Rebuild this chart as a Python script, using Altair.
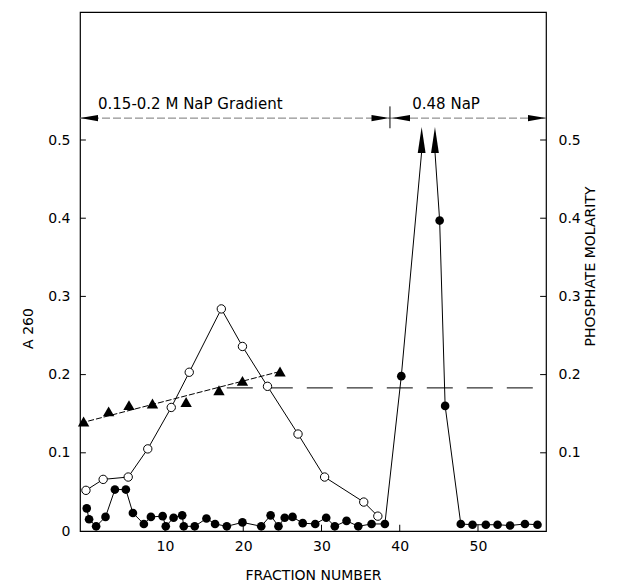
import altair as alt
import pandas as pd

# ---------------- data ----------------
# filled circles (A 260 profile)
filled_x = [0, 0.3, 1.2, 2.4, 3.6, 5.0, 5.9, 7.3, 8.2, 9.7, 10.1, 11.1, 12.2, 12.4,
            13.8, 15.3, 16.4, 17.9, 19.9, 22.3, 23.5, 24.5, 25.3, 26.3, 27.6, 29.2,
            30.6, 31.7, 33.2, 34.7, 36.4, 38.1, 40.2, 45.1, 45.8, 47.8, 49.3, 51.0,
            52.5, 54.1, 56.0, 57.6]
filled_y = [0.029, 0.015, 0.006, 0.018, 0.053, 0.053, 0.023, 0.009, 0.018, 0.019,
            0.006, 0.017, 0.020, 0.006, 0.006, 0.016, 0.009, 0.006, 0.011, 0.006,
            0.020, 0.006, 0.017, 0.018, 0.010, 0.009, 0.017, 0.006, 0.013, 0.006,
            0.009, 0.009, 0.198, 0.397, 0.160, 0.009, 0.008, 0.008, 0.008, 0.007,
            0.009, 0.008]

# open circles
open_x = [-0.1, 2.1, 5.3, 7.8, 10.8, 13.1, 17.2, 19.9, 23.1, 27.0, 30.4, 35.4, 37.2]
open_y = [0.052, 0.066, 0.069, 0.105, 0.158, 0.203, 0.284, 0.236, 0.185, 0.124,
          0.069, 0.037, 0.019]

# triangles (phosphate molarity of gradient)
tri_x = [-0.4, 2.8, 5.4, 8.4, 12.7, 16.9, 19.9, 24.7]
tri_y = [0.140, 0.153, 0.161, 0.163, 0.165, 0.180, 0.192, 0.204]

# fitted gradient line
trend_x = [-0.8, 24.7]
trend_y = [0.138, 0.204]

# long-dashed molarity line
dash_x = [17.9, 58.69]
dash_y = [0.183, 0.183]

# off-scale peak arrows
peak_arrow_x = [42.8, 44.5]
peak_arrow_y = [0.500, 0.500]
peak_base_y = 0.485

# elution band annotation
band_y = 0.528
band_x = [-0.86, 58.69]
band_arrow_x = [0.29, 37.54, 40.16, 57.54]
band_arrow_dir = ["left", "right", "left", "right"]
divider_x = [38.75]
divider_y = [0.515, 0.543]
label_text = ["0.15-0.2 M NaP Gradient", "0.48 NaP"]
label_x = [1.44, 41.6]
label_y = [0.546, 0.546]

x_ticks = [10, 20, 30, 40, 50]
y_ticks_left = [0, 0.1, 0.2, 0.3, 0.4, 0.5]
y_ticks_right = [0.1, 0.2, 0.3, 0.4, 0.5]

X_DOMAIN = [-0.86, 58.69]
Y_DOMAIN = [0, 0.6637]
TICK_X = 0.75    # inward tick length in x units
TICK_Y = 0.008   # inward tick length in y units

FONT = "DejaVu Sans"

# ---------------- frames ----------------
filled_df = pd.DataFrame({"x": filled_x, "y": filled_y})
seg = [1 if v < 42 else 2 for v in filled_x]
peak_line_df = pd.DataFrame({
    "x": filled_x + peak_arrow_x,
    "y": filled_y + [peak_base_y, peak_base_y],
    "seg": seg + [1, 2],
})
open_df = pd.DataFrame({"x": open_x, "y": open_y})
tri_df = pd.DataFrame({"x": tri_x, "y": tri_y})
trend_df = pd.DataFrame({"x": trend_x, "y": trend_y})
dash_df = pd.DataFrame({"x": dash_x, "y": dash_y})
parrow_df = pd.DataFrame({"x": peak_arrow_x, "y": peak_arrow_y})
band_df = pd.DataFrame({"x": [band_x[0]], "x2": [band_x[1]], "y": [band_y]})
barrow_df = pd.DataFrame({"x": band_arrow_x, "y": [band_y] * 4, "dir": band_arrow_dir})
divider_df = pd.DataFrame({"x": divider_x, "y": [divider_y[0]], "y2": [divider_y[1]]})
label_df = pd.DataFrame({"x": label_x, "y": label_y, "t": label_text})

lt_df = pd.DataFrame({"x": [X_DOMAIN[0]] * 5, "x2": [X_DOMAIN[0] + TICK_X] * 5,
                      "y": y_ticks_right})
rt_df = pd.DataFrame({"x": [X_DOMAIN[1] - TICK_X] * 5, "x2": [X_DOMAIN[1]] * 5,
                      "y": y_ticks_right})
xt_df = pd.DataFrame({"x": x_ticks, "y": [0] * 5, "y2": [TICK_Y] * 5})

# ---------------- scales / axes ----------------
xscale = alt.Scale(domain=X_DOMAIN, nice=False, zero=False)
yscale = alt.Scale(domain=Y_DOMAIN, nice=False, zero=False)

xaxis = alt.Axis(values=x_ticks, ticks=False, tickSize=0, domain=False, grid=False,
                 labelFontSize=14, labelPadding=8, labelColor="black",
                 title="FRACTION NUMBER", titleFontSize=14, titleFontWeight="normal",
                 titleColor="black", titleY=44, titleBaseline="middle")
yaxis_left = alt.Axis(values=y_ticks_left, ticks=False, tickSize=0, domain=False,
                      grid=False, labelFontSize=14, labelPadding=10, labelColor="black",
                      labelExpr="datum.value == 0 ? '0' : format(datum.value, '.1f')",
                      title="A 260", titleFontSize=14, titleFontWeight="normal",
                      titleColor="black", titleAngle=270, titleX=-52, titleY=316,
                      titleAlign="center", titleBaseline="middle")
yaxis_right = alt.Axis(orient="right", values=y_ticks_right, ticks=False, tickSize=0,
                       domain=False, grid=False, labelFontSize=14, labelPadding=12,
                       labelColor="black", format=".1f",
                       title="PHOSPHATE MOLARITY", titleFontSize=14,
                       titleFontWeight="normal", titleColor="black", titleAngle=270,
                       titleX=44, titleY=254, titleAlign="center",
                       titleBaseline="middle")


def X():
    return alt.X("x:Q", scale=xscale, axis=xaxis)


def Y():
    return alt.Y("y:Q", scale=yscale, axis=yaxis_left)


# ---------------- layers ----------------
peak_line = alt.Chart(peak_line_df).mark_line(color="black", strokeWidth=1).encode(
    x=X(), y=Y(), detail="seg:N", order="x:Q")
filled_pts = alt.Chart(filled_df).mark_circle(color="black", opacity=1, size=75).encode(
    x=X(), y=Y())

open_line = alt.Chart(open_df).mark_line(color="black", strokeWidth=1).encode(
    x=X(), y=Y(), order="x:Q")
open_pts = alt.Chart(open_df).mark_circle(fill="white", stroke="black", strokeWidth=1,
                                          opacity=1, size=70).encode(x=X(), y=Y())

trend_line = alt.Chart(trend_df).mark_line(color="black", strokeWidth=1,
                                           strokeDash=[6, 2]).encode(x=X(), y=Y())
tri_pts = alt.Chart(tri_df).mark_point(shape="triangle-up", filled=True, color="black",
                                       opacity=1, size=130).encode(x=X(), y=Y())

dash_line = alt.Chart(dash_df).mark_line(color="black", strokeWidth=1,
                                         strokeDash=[26, 14]).encode(x=X(), y=Y())

UP = "M 0 -1 L 0.3 1 L -0.3 1 Z"
peak_arrows = alt.Chart(parrow_df).mark_point(shape=UP, filled=True, color="black",
                                              opacity=1, size=676).encode(x=X(), y=Y())

band_line = alt.Chart(band_df).mark_rule(color="#777777", strokeWidth=1,
                                         strokeDash=[8, 3]).encode(
    x=X(), x2="x2:Q", y=Y())
LEFT = "M -1 0 L 1 -0.35 L 1 0.35 Z"
RIGHT = "M 1 0 L -1 -0.35 L -1 0.35 Z"
band_arrows = alt.Chart(barrow_df).mark_point(filled=True, color="black", opacity=1,
                                              size=324).encode(
    x=X(), y=Y(),
    shape=alt.Shape("dir:N", scale=alt.Scale(domain=["left", "right"],
                                             range=[LEFT, RIGHT]), legend=None))
divider = alt.Chart(divider_df).mark_rule(color="black", strokeWidth=1).encode(
    x=X(), y=Y(), y2="y2:Q")
labels = alt.Chart(label_df).mark_text(align="left", baseline="middle", fontSize=15,
                                       font=FONT, color="black").encode(
    x=X(), y=Y(), text="t:N")

left_ticks = alt.Chart(lt_df).mark_rule(color="black", strokeWidth=1).encode(
    x=X(), x2="x2:Q", y=Y())
x_tick_rules = alt.Chart(xt_df).mark_rule(color="black", strokeWidth=1).encode(
    x=X(), y=Y(), y2="y2:Q")

main = alt.layer(band_line, divider, band_arrows, labels, dash_line, trend_line,
                 open_line, peak_line, peak_arrows, open_pts, tri_pts, filled_pts,
                 left_ticks, x_tick_rules)

right_ticks = alt.Chart(rt_df).mark_rule(color="black", strokeWidth=1).encode(
    x=X(), x2="x2:Q", y=alt.Y("y:Q", scale=yscale, axis=yaxis_right))

chart = alt.layer(main, right_ticks).resolve_scale(y="independent").properties(
    width=466, height=519,
    autosize=alt.AutoSizeParams(type="none"),
    padding={"left": 72, "top": 4, "right": 64, "bottom": 50},
    background="white",
).configure_view(stroke="black", strokeWidth=1.2).configure_axis(
    labelFont=FONT, titleFont=FONT).configure_text(font=FONT)

chart.save("out.html", embed_options={"renderer": "svg", "actions": False})
